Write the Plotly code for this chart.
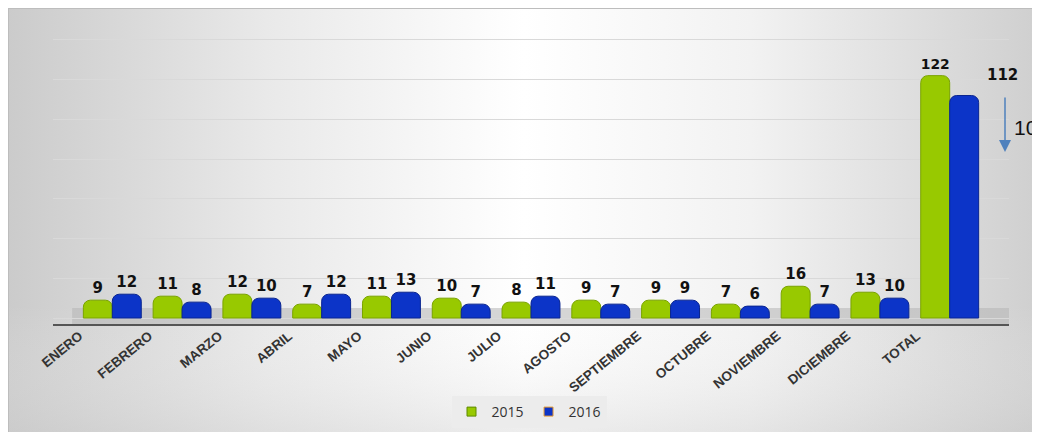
import base64
import plotly.graph_objects as go

months = ["ENERO", "FEBRERO", "MARZO", "ABRIL", "MAYO", "JUNIO", "JULIO",
          "AGOSTO", "SEPTIEMBRE", "OCTUBRE", "NOVIEMBRE", "DICIEMBRE", "TOTAL"]
values_2015 = [9, 11, 12, 7, 11, 10, 8, 9, 9, 7, 16, 13, 122]
values_2016 = [12, 8, 10, 12, 13, 7, 11, 7, 9, 6, 7, 10, 112]
series_names = ["2015", "2016"]
diff_label = "10"

OFF = 8   # page body margin
W, H = 1032, 424
L, R, T, B = 45, 31, 12, 108
pw, ph = W - L - R, H - T - B
GREEN, BLUE = "#98c900", "#0c34c8"

def px_x(p):
    return (p - OFF - L) / pw

def px_y(p):
    return (H - B - (p - OFF)) / ph

svg = f'''<svg xmlns="http://www.w3.org/2000/svg" width="{W}" height="{H}" preserveAspectRatio="none">
<defs><linearGradient id="g" x1="0" y1="0" x2="1" y2="0">
<stop offset="0" stop-color="#cbcbcb"/><stop offset="0.25" stop-color="#e9e9e9"/>
<stop offset="0.5" stop-color="#ffffff"/><stop offset="0.72" stop-color="#f2f2f2"/>
<stop offset="1" stop-color="#cfcfcf"/></linearGradient>
<linearGradient id="v" x1="0" y1="0" x2="0" y2="1">
<stop offset="0" stop-color="#ffffff" stop-opacity="0"/><stop offset="0.7" stop-color="#ffffff" stop-opacity="0"/>
<stop offset="1" stop-color="#cccccc" stop-opacity="0.35"/></linearGradient></defs>
<rect x="0" y="0" width="{W}" height="{H}" fill="url(#g)"/>
<rect x="0" y="0" width="{W}" height="{H}" fill="url(#v)"/>
<line x1="0.5" y1="0" x2="0.5" y2="{H}" stroke="#bdbdbd" stroke-width="1"/>
<line x1="0" y1="0.5" x2="{W}" y2="0.5" stroke="#bdbdbd" stroke-width="1"/>
</svg>'''
bg_uri = "data:image/svg+xml;base64," + base64.b64encode(svg.encode()).decode()

xs = list(range(len(months)))
text_2016 = [str(v) for v in values_2016[:-1]] + [""]
lab_font = dict(family="DejaVu Sans", size=15, color="#111111", weight="bold")

fig = go.Figure()
fig.add_trace(go.Bar(
    name=series_names[0], x=xs, y=values_2015, showlegend=False,
    marker=dict(color=GREEN, line=dict(color="#7aa300", width=1), cornerradius=7),
    text=values_2015, textposition="outside", cliponaxis=False, textfont=lab_font,
))
fig.add_trace(go.Bar(
    name=series_names[1], x=xs, y=values_2016, showlegend=False,
    marker=dict(color=BLUE, line=dict(color="#0a2590", width=1), cornerradius=7),
    text=text_2016, textposition="outside", cliponaxis=False, textfont=lab_font,
))
for name, col, edge in [(series_names[0], GREEN, "#5f8a00"), (series_names[1], BLUE, "#e89a30")]:
    fig.add_trace(go.Scatter(x=[None], y=[None], mode="markers", name=name,
                             marker=dict(symbol="square", size=9, color=col,
                                         line=dict(color=edge, width=1))))

# label of the 2016 total, drawn to the right of its bar
fig.add_annotation(x=xs[-1], y=values_2016[-1], xref="x", yref="y", text=str(values_2016[-1]),
                   showarrow=False, xshift=53, yshift=10, yanchor="bottom", font=lab_font)

fig.add_shape(type="rect", xref="paper", yref="y", x0=0.02, x1=1, y0=-3, y1=5,
              fillcolor="#b4b4b4", opacity=0.55, line_width=0, layer="below")

fig.add_layout_image(dict(source=bg_uri, xref="paper", yref="paper",
                          x=-L / pw, y=(H - B) / ph, sizex=W / pw, sizey=H / ph,
                          xanchor="left", yanchor="top", sizing="stretch", layer="below"))

fig.add_annotation(xref="paper", yref="paper", x=px_x(1005), y=px_y(152),
                   ax=0, ay=-56, showarrow=True, arrowhead=2, arrowsize=1.6,
                   arrowwidth=1.5, arrowcolor="#4f81bd", text="")
fig.add_annotation(xref="paper", yref="paper", x=px_x(1012), y=px_y(127),
                   xanchor="left", yanchor="middle", showarrow=False, text=diff_label,
                   font=dict(family="Liberation Sans", size=21, color="#111111"))

fig.update_layout(
    width=W, height=H,
    margin=dict(l=L, r=R, t=T, b=B, pad=0, autoexpand=False),
    paper_bgcolor="#ffffff", plot_bgcolor="rgba(0,0,0,0)",
    barmode="group", bargap=0.17, bargroupgap=0,
    showlegend=True,
    legend=dict(orientation="h", x=px_x(529), y=px_y(412), xanchor="center", yanchor="middle",
                bgcolor="#ececec", font=dict(family="Open Sans", size=14, color="#333333"),
                itemwidth=30, tracegroupgap=0),
    xaxis=dict(range=[-0.85, 12.85], tickangle=-39, showgrid=False, automargin=False,
               tickmode="array", tickvals=[i - 0.47 for i in xs], ticktext=months,
               ticklabelstandoff=-3,
               showline=True, linecolor="#555555", linewidth=2, ticks="", zeroline=False,
               tickfont=dict(family="Liberation Sans", size=13.5, color="#333333", weight="bold")),
    yaxis=dict(range=[-3, 150], dtick=20, showticklabels=False, showgrid=True, automargin=False,
               gridcolor="#d9d9d9", gridwidth=1, zeroline=False, showline=False),
)

fig.write_html("out.html")
